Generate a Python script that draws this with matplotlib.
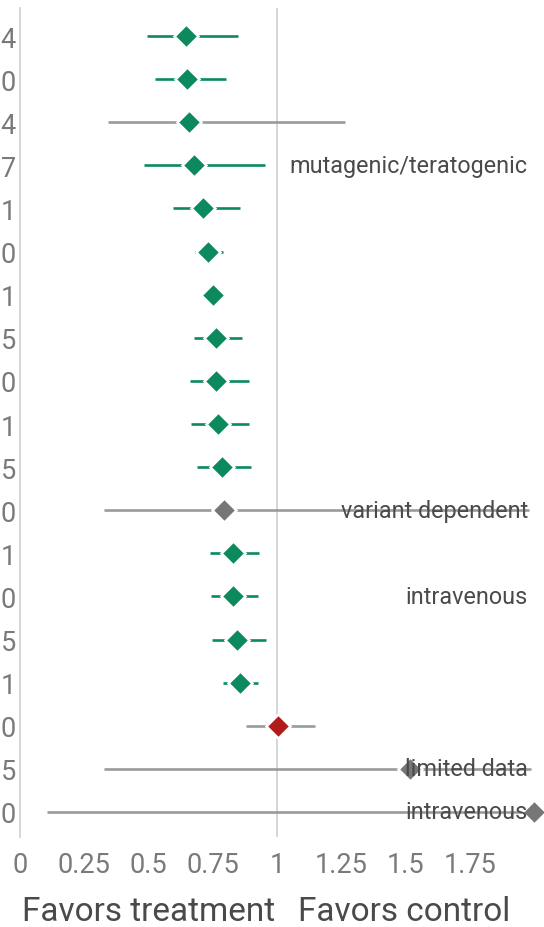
import matplotlib
matplotlib.use("Agg")
import matplotlib.pyplot as plt
from matplotlib.transforms import blended_transform_factory

plt.rcParams['font.family'] = ['Roboto', 'DejaVu Sans']

# one row per entry, top to bottom
row_labels = ["4", "0", "4", "7", "1", "0", "1", "5", "0", "1",
              "5", "0", "1", "0", "5", "1", "0", "5", "0"]
estimate = [0.646, 0.65, 0.658, 0.677, 0.712, 0.73, 0.75, 0.763, 0.763, 0.77,
            0.786, 0.794, 0.829, 0.829, 0.844, 0.856, 1.004, 1.517, 2.0]
ci_low = [0.494, 0.525, 0.342, 0.482, 0.595, 0.68, 0.72, 0.677, 0.66, 0.665,
          0.689, 0.327, 0.739, 0.743, 0.747, 0.79, 0.88, 0.327, 0.105]
ci_high = [0.848, 0.80, 1.265, 0.953, 0.856, 0.79, 0.78, 0.864, 0.89, 0.89,
           0.90, 1.98, 0.93, 0.926, 0.957, 0.925, 1.148, 1.99, 2.2]
# g = green (favors treatment), r = red, n = neutral grey
marker_kind = ["g"] * 11 + ["n"] + ["g"] * 4 + ["r", "n", "n"]
ci_grey = [2, 11, 16, 17, 18]
notes = {3: "mutagenic/teratogenic", 11: "variant dependent",
         13: "intravenous", 17: "limited data", 18: "intravenous"}

x_ticks = [0, 0.25, 0.5, 0.75, 1, 1.25, 1.5, 1.75]
x_ticklabels = ["0", "0.25", "0.5", "0.75", "1", "1.25", "1.5", "1.75"]

GREEN = "#0c8a5e"
RED = "#b01c1c"
GREY_MARK = "#767676"
GREY_LINE = "#9a9a9a"
fill = {"g": GREEN, "r": RED, "n": GREY_MARK}

W, H = 544, 928
fig = plt.figure(figsize=(W / 100, H / 100), dpi=100)
ax = fig.add_axes([20 / W, (H - 838) / H, (W - 20) / W, (838 - 9) / H])

n = len(row_labels)
ys = list(range(n))
for i in ys:
    lc = GREY_LINE if i in ci_grey else GREEN
    ax.plot([ci_low[i], ci_high[i]], [i, i], color=lc, lw=1.9,
            solid_capstyle="butt", zorder=2, clip_on=True)
    ax.plot(estimate[i], i, marker="D", ms=12.5, mfc=fill[marker_kind[i]],
            mec="white", mew=1.8, ls="none", zorder=3, clip_on=False)

tr = blended_transform_factory(ax.transAxes, ax.transData)
for i, txt in notes.items():
    ax.text(0.969, i, txt, transform=tr, ha="right", va="center",
            fontsize=16.8, color="#4a4a4a", zorder=4)

ax.axvline(1, color="#d0d0d0", lw=1.2, zorder=1)

ax.set_xlim(0, 524 / 257)
ax.set_ylim(n - 1 + 0.58, -0.65)
ax.set_xticks(x_ticks)
ax.set_xticklabels(x_ticklabels)
ax.set_yticks(ys)
ax.set_yticklabels(row_labels)
ax.tick_params(axis="x", length=0, pad=10, labelsize=19.5, labelcolor="#7a7a7a")
ax.tick_params(axis="y", length=0, pad=3, labelsize=19.5, labelcolor="#7a7a7a")

for s in ["top", "right", "bottom"]:
    ax.spines[s].set_visible(False)
ax.spines["left"].set_color("#cfcfcf")
ax.spines["left"].set_linewidth(1.2)

fig.text(275 / W, 1 - 912 / H, "Favors treatment", ha="right", va="center",
         fontsize=24, color="#4a4a4a")
fig.text(298 / W, 1 - 912 / H, "Favors control", ha="left", va="center",
         fontsize=24, color="#4a4a4a")

fig.savefig("out.png", dpi=100)
